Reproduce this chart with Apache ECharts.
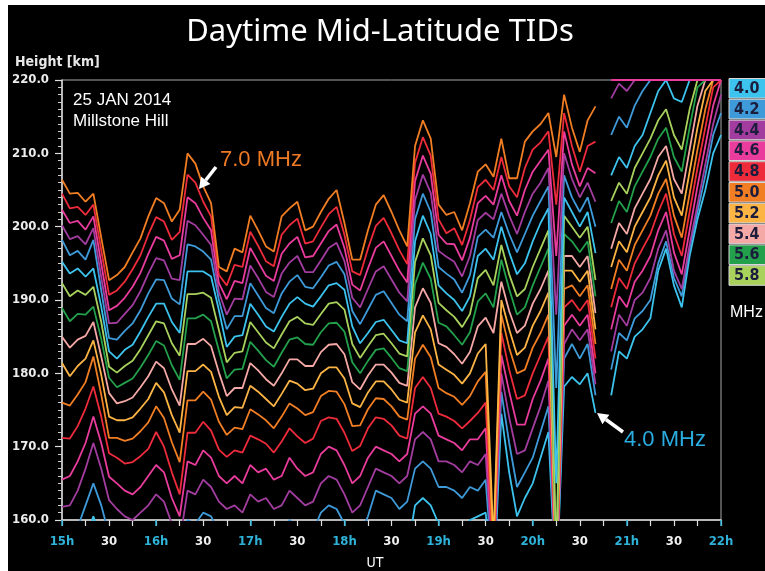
<!DOCTYPE html>
<html><head><meta charset="utf-8">
<script src="https://cdn.jsdelivr.net/npm/echarts/dist/echarts.min.js"></script>
<style>html,body{margin:0;padding:0;background:#fff}#c{width:765px;height:571px}</style>
</head><body><div id="c"></div>
<script>
// ---- data (heights in km, 5-minute samples from 15:00 UT; null = no echo) ----
const freqs = ['4.0','4.2','4.4','4.6','4.8','5.0','5.2','5.4','5.6','5.8','6.0','6.2','6.4','6.6','6.8','7.0'];
const legendFreqs = ['4.0','4.2','4.4','4.6','4.8','5.0','5.2','5.4','5.6','5.8'];
const hourLabels = ['15h','16h','17h','18h','19h','20h','21h','22h'];
const yTickLabels = ['160.0','170.0','180.0','190.0','200.0','210.0','220.0'];
const N15 = [null,null,null,null,null,null,null,null,null,null,null,null,null,null,null];
const TOP15 = [220,220,220,220,220,220,220,220,220,220,220,220,220,220,220];

const f70 = [206.4,204.5,204.6,203.4,204.5,198.5,192.7,193.4,194.5,196.5,
198.4,201.4,203.9,203.2,200.7,202.3,210,208.6,205.5,203.2,
194.5,193.9,197,196.5,201.5,199.5,197.3,196.6,201.4,202.5,
203.4,199.5,200,202,203.8,205,200.5,195.5,195.5,199.5,
203,204.3,202,199.5,197.3,211,214.5,212,203,201.6,
202,199.5,203.2,207.5,208.5,206.8,212,206.6,206.6,211.6,
213,214,215.5,209.5,218,213.5,210.2,214.5,216.4,null].concat(N15);
const f68 = [204.5,202.5,202.7,201.6,203.0,196.8,190.7,191.3,192.5,194.2,
196.1,198.9,201.3,200.7,198.2,199.3,207.1,206.0,203.4,201.4,
193.4,192.0,194.8,194.5,199.3,197.4,195.3,194.6,198.9,200.2,
201.1,197.7,198.0,199.9,201.7,202.7,198.9,193.9,193.4,197.0,
200.1,201.2,199.1,196.8,194.9,208.7,212.2,209.7,201.0,199.1,
199.8,197.5,200.9,205.4,206.4,205,209.5,205.5,204,208,
210.5,211.5,213,203,215.5,211,207.5,211,211.6,null].concat(N15);
const f66 = [202.3,200.5,200.8,199.6,201.4,195.0,188.6,189.2,190.3,191.8,
193.7,196.3,198.6,198.1,195.6,196.1,204.0,203.2,201.2,199.5,
192.3,190.1,192.6,192.3,197.1,195.2,193.3,192.6,196.3,197.7,
198.6,195.8,196.0,197.7,199.4,200.3,197.1,192.1,191.3,194.3,
197.1,198.0,196.0,194.0,192.4,206.2,209.7,207.2,198.9,197.7,
197.6,195.4,198.5,203.2,204.2,203,207,203.5,201.5,205,
207.5,209,210.5,196,213,208.5,205.5,208,207.3,null].concat(TOP15);
const f64 = [200.2,198.3,198.7,197.6,199.8,193.1,186.8,186.9,188.1,189.3,
191.2,193.6,195.7,195.4,192.9,192.7,200.8,200.2,198.9,197.5,
191.1,188.0,190.2,190.1,194.7,193.0,191.1,190.4,193.6,195.1,
196.0,193.8,193.8,195.4,197.1,197.8,195.3,190.3,189.0,191.5,
193.9,194.6,192.8,191.0,189.8,203.6,207.1,204.6,196.7,195.9,
195.2,193.2,196.0,200.9,201.9,201,204.5,201.5,199,202,
204.5,206,208,188,210,206.5,204,206,203.4,null,
217.5,219.5,218.5,220,220,220,220,220,220,220,220,220,220,220,220];
const f62 = [198.2,196.1,196.7,195.5,198.2,191.3,184.8,184.6,185.8,186.8,
188.6,190.9,192.8,192.7,190.2,189.4,197.6,197.3,196.6,195.5,
190.0,186.0,187.8,187.8,192.3,190.6,188.9,188.2,190.9,192.5,
193.4,191.8,191.6,193.1,194.7,195.2,193.5,188.5,186.7,188.7,
190.7,191.2,189.6,188.0,187.1,201.0,204.5,202.0,194.5,193.6,
192.8,191.0,193.4,198.6,199.6,198.5,202,199,196.5,199,
201.5,203.5,205.5,178,207,204,202,204,200,null,
212.5,215,213.5,216.5,218.5,220,220,220,220,220,220,220,220,220,220];
const f60 = [195.2,193.6,194.3,193.2,194.3,189.1,183.0,182.0,183.2,183.9,
185.7,187.7,189.5,189.5,187.0,185.5,193.9,193.9,193.9,193.2,
188.6,183.6,185.0,185.2,189.5,188.0,186.4,185.7,187.7,189.5,
190.4,189.5,189.1,190.5,192.0,192.3,191.4,186.4,184.1,185.5,
187.0,187.3,185.9,184.5,184.1,198.0,201.5,199.0,192.0,190.9,
190.0,188.5,190.5,196.0,197.0,195.5,200,196.5,193.5,195,
198,200.5,202.5,165,204,202,200,202,196.4,null,
207,209.5,208,211,212.5,215.5,218.5,220,217.5,217,220,220,220,220,220];
const f58 = [192.3,190.5,191.3,190.7,191.8,187.0,180.9,180.1,181.0,181.7,
183.3,185.2,187.1,186.8,184.1,182.4,190.8,190.8,191.0,190.3,
185.9,181.5,182.8,183.0,187.0,185.6,184.2,183.4,185.3,187.1,
187.7,186.8,186.6,188.1,189.5,189.7,188.7,184.0,182.1,183.7,
185.2,185.4,184.1,182.7,182.3,195.2,198.4,196.1,189.6,188.6,
187.7,186.3,188.1,193.0,194.1,192,197.5,193.5,190.5,191.5,
194.5,197,199.5,155,201.5,200,198.5,200,192.7,null,
203.5,206,204.5,208,210,212,214.5,216,212.5,210.5,216,220,220,220,220];
const f56 = [188.9,187.1,188.1,188.0,189.1,184.7,179.4,178.1,178.7,179.3,
180.8,182.5,184.4,183.8,181.1,179.1,187.5,187.5,188.0,187.1,
183.1,179.3,180.5,180.6,184.3,183.1,181.8,180.9,182.8,184.6,
184.9,184.0,183.9,185.6,186.8,186.9,185.7,181.5,180.0,181.7,
183.2,183.4,182.1,180.7,180.3,192.2,195.1,192.9,186.9,186.4,
185.2,183.9,185.6,189.8,190.9,189,195.5,191.5,188,189,
192,194.5,197,154,199,198,196.5,198,190.5,null,
200.5,203.5,202,205.5,207.5,209.5,212,213.5,209.5,207.5,213.5,219,220,220,220];
const f54 = [185.0,183.5,184.6,185.1,187.0,182.3,177.3,175.9,176.2,176.7,
178.1,179.6,181.6,180.7,177.8,175.6,184.0,184.0,184.7,183.7,
180.1,176.9,178.0,178.0,181.4,180.4,179.2,178.3,180.0,181.9,
181.9,181.0,181.0,182.9,183.9,184.0,182.6,178.8,177.8,179.7,
181.2,181.2,180.1,178.7,178.3,189.0,191.6,189.6,184.1,183.6,
182.6,181.3,182.9,186.4,187.6,185.5,192.5,188.5,185.5,186.5,
189.5,191.5,194,153,196,196,194.5,196,188.2,null,
197,200.5,199,202.5,204.5,206.5,209.5,211,206.5,204.5,210.5,216.5,220,220,220];
const f52 = [181.4,179.6,181.0,182.0,184.5,179.8,174.1,173.6,173.6,174.0,
175.2,176.5,178.7,177.4,174.3,171.9,180.3,180.3,181.2,180.2,
176.8,174.3,175.4,175.3,178.3,177.5,176.5,175.5,177.2,179.0,
178.6,177.7,177.9,180.0,180.8,180.8,179.3,175.9,175.4,177.4,
178.9,178.9,177.8,176.4,176.0,185.6,187.9,186.0,181.2,180.5,
179.8,178.6,180.0,182.7,184.0,157,190,186,182.5,183.5,
186.5,188.5,191,152,194,194,192.5,194,186,null,
194.5,198,196.5,200,202,204,207,209,204,201.5,207.5,213.5,218.5,220,220];
const f50 = [176.0,175.6,177.1,178.8,182.3,177.1,171.2,171.2,170.8,171.1,
172.1,173.3,175.5,173.9,170.6,167.9,176.3,176.3,177.5,176.4,
173.4,171.6,172.6,172.4,175.1,174.4,173.6,172.5,174.1,175.9,
175.2,174.3,174.7,176.9,177.6,177.5,175.8,172.8,172.9,175.1,
176.6,176.5,175.5,174.1,173.7,182.0,183.9,182.2,178.0,177.3,
176.8,175.7,176.9,178.9,180.2,155,188,183.5,180,180.5,
183.5,185.5,188,151,191.5,192,190.5,192,184,null,
191.5,195.5,194,197.5,199.5,201.5,204.5,206.5,201.5,198.5,204.5,210.5,216,220,220];
const f48 = [171.2,171.1,172.8,175.2,178.2,174.1,169.1,168.5,167.7,167.9,
168.7,169.7,172.0,170.0,166.5,163.5,171.9,171.9,173.4,172.2,
169.6,168.6,169.5,169.2,171.5,171.0,170.4,169.2,170.7,172.5,
171.4,170.5,171.1,173.5,174.0,173.8,171.9,169.4,170.1,172.5,
174.0,173.8,172.9,171.5,171.1,178.0,179.5,178.0,174.5,174.1,
173.5,172.5,173.5,174.6,176.0,154,185.5,180.5,176.5,177,
180,182.5,185,150,189,190,188.5,190,182,null,
189,193,191.5,195,197,199,202,204.5,199,196,202,208,213.5,219,220];
const f46 = [165.5,166,168,170.5,174.1,170.5,165.9,165,164,163.5,
164.5,166,167.5,166.5,163,160.5,168,167.5,169.5,168.5,
166,165,166,165,167.5,166.5,167,165.5,166,168.5,
167,166,166.5,169,170,169.5,167.5,165,166,168.5,
170,169.5,169,168,169,174.5,175.5,174.5,171.5,171,
170.5,169.5,171,171,172.5,153,182.5,177.5,173,173,
176.5,179,182,150,186.5,188,186.5,188,180,null,
186,190.5,189,192.5,194,196,199.5,202,196.5,193.5,199.5,205.5,211,216.5,220];
const f44 = [161.8,162,164,167,170.5,167,162.7,161.5,160.5,160,
161,162,163.5,162.5,159.5,157,164,163.5,165.5,164.5,
162.5,161.5,162,161,163.5,162.5,163,161.5,162,164,
163,162,162.5,165,166,165.5,163.5,161,162,164.5,
167,166.5,166,165,166,171,172,171,168,168,
167.5,166.5,168,167.5,169,152,180,174,169,169.5,
172.5,175.5,179,150,184,186,184.5,186,178.5,null,
183,188,186.5,190,191,193,197,199.5,194,191.5,197.5,203,208.5,214,218];
const f42 = [157,157.5,159,162,165,162,158,157.5,157,156.5,
157,158,159.5,158.5,156,153.5,160,159.5,161,160.5,
158.5,157.5,158,157,159.5,158.5,159,157.5,158,160,
159,158,158.5,161,162,161.5,159.5,157,158,160.5,
164,163.5,163,161.5,162.5,167,168,167,164.5,164.5,
164,163,164.5,164,165.5,151,177.5,170.5,164.5,166.5,
168.5,172,175.5,150,182,184,182,184,177,null,
180.5,185.5,184.5,187.5,188.5,190,195,198,193,190.5,197,202,207,212.5,215.5];
const f40 = [153,153.5,155,157.5,160.5,157.5,154,153.5,153,152.5,
153,154,155,154.5,152,150,156,155.5,157,156.5,
154.5,153.5,154,153,155.5,154.5,155,153.5,154,156,
155,154,154.5,157,158,157.5,155.5,153,154,157,
159,158,157.5,156,155.5,162,163,162,159.5,159.5,
159,158,160,160.5,161,150,174.5,166.5,160.5,163,
165,168.5,172,150,178.2,179.5,178.5,180,174.6,null,
177,183,182,185,186,187.5,194,197,192,189,196,201,205,210,212.5];

const seriesValues = [f40,f42,f44,f46,f48,f50,f52,f54,f56,f58,f60,f62,f64,f66,f68,f70];
// sampling grid: minutes after 15:00 UT
const minutesUT = f70.map((_, i) => i * 5);

// ---- styling ----
const palette = ['#3cc3ee','#3e9ad8','#a23d9f','#e93c9c','#ee2b3b','#f17e23','#fcb445','#f5a9a6','#22a04b','#a9d25d'];
const lineColor = i => palette[i % 10];
const CF = "'Liberation Sans Narrow','Arial Narrow','DejaVu Sans Condensed','Liberation Sans',sans-serif";
const SF = "'Liberation Sans',Arial,sans-serif";
const CYAN_TXT = '#2fb2d8';

const series = seriesValues.map((vals, i) => ({
  name: freqs[i] + ' MHz',
  type: 'line',
  xAxisIndex: 0, yAxisIndex: 0,
  showSymbol: false, symbol: 'none',
  clip: true, silent: true, animation: false,
  lineStyle: {color: lineColor(i), width: 1.8},
  data: minutesUT.map((t, j) => [t, vals[j] === null ? '-' : vals[j]])
}));

const graphics = [];
// white margin strips
graphics.push({type:'rect', shape:{x:0,y:0,width:8,height:571}, style:{fill:'#fff'}, z:100});
graphics.push({type:'rect', shape:{x:0,y:0,width:765,height:5}, style:{fill:'#fff'}, z:100});
// title and texts
graphics.push({type:'text', x:380, y:32, style:{text:'Daytime Mid-Latitude TIDs', fill:'#fff', font:"normal 31px 'Noto Sans',sans-serif", textAlign:'center', textVerticalAlign:'middle'}, z:50});
graphics.push({type:'text', x:15, y:62, style:{text:'Height [km]', fill:'#e8e8e8', font:"bold 14px " + CF, textAlign:'left', textVerticalAlign:'middle'}, z:50});
graphics.push({type:'text', x:375, y:563, style:{text:'UT', fill:'#fff', font:"normal 14px " + CF, textAlign:'center', textVerticalAlign:'middle'}, z:50});
graphics.push({type:'text', x:73, y:100, style:{text:'25 JAN 2014', fill:'#fff', font:"normal 17px " + SF, textAlign:'left', textVerticalAlign:'middle'}, z:50});
graphics.push({type:'text', x:73, y:121, style:{text:'Millstone Hill', fill:'#fff', font:"normal 17px " + SF, textAlign:'left', textVerticalAlign:'middle'}, z:50});
graphics.push({type:'text', x:220, y:160, style:{text:'7.0 MHz', fill:'#ee7a25', font:"normal 22px " + SF, textAlign:'left', textVerticalAlign:'middle'}, z:50});
graphics.push({type:'text', x:624, y:440, style:{text:'4.0 MHz', fill:'#2aaee2', font:"normal 22px " + SF, textAlign:'left', textVerticalAlign:'middle'}, z:50});
// arrows
graphics.push({type:'line', shape:{x1:216,y1:167,x2:205.7,y2:180.3}, style:{stroke:'#fff', lineWidth:3.5}, z:50});
graphics.push({type:'polygon', shape:{points:[[199,189],[210.4,184.0],[201.0,176.6]]}, style:{fill:'#fff'}, z:50});
graphics.push({type:'line', shape:{x1:623,y1:432,x2:605.9,y2:419.5}, style:{stroke:'#fff', lineWidth:3.5}, z:50});
graphics.push({type:'polygon', shape:{points:[[597,413],[609.4,414.7],[602.4,424.3]]}, style:{fill:'#fff'}, z:50});
// legend boxes
legendFreqs.forEach((f, i) => {
  const y0 = 78.5 + i * 20.8;
  graphics.push({type:'rect', shape:{x:729,y:y0,width:40,height:19.6}, style:{fill:palette[i], stroke:'#d8d8d8', lineWidth:1}, z:60});
  graphics.push({type:'text', x:734, y:y0 + 10.3, style:{text:f, fill:'#1c1c3c', font:"bold 16px " + CF, textAlign:'left', textVerticalAlign:'middle'}, z:61});
});
graphics.push({type:'text', x:730, y:313, style:{text:'MHz', fill:'#fff', font:"normal 16px " + SF, textAlign:'left', textVerticalAlign:'middle'}, z:61});

const chart = echarts.init(document.getElementById('c'), null, {renderer:'canvas'});
chart.setOption({
  backgroundColor: '#000',
  animation: false,
  grid: {left:62, right:44, top:80, bottom:51, show:true, backgroundColor:'#000', borderColor:'#a8a8a8', borderWidth:1},
  xAxis: [{
    type:'value', min:0, max:420, interval:15,
    axisLine:{show:true, onZero:false, lineStyle:{color:'#d8d8d8', width:1.5}},
    axisTick:{show:true, length:6, lineStyle:{color:'#e0e0e0', width:1.2}},
    splitLine:{show:false},
    axisLabel:{
      margin:15, interval:0,
      formatter: v => (v % 60 === 0) ? '{h|' + hourLabels[v/60] + '}' : ((v % 30 === 0) ? '{m|30}' : ''),
      rich:{
        h:{color:CYAN_TXT, fontWeight:'bold', fontSize:13, fontFamily:CF},
        m:{color:'#f0f0f0', fontWeight:'bold', fontSize:13, fontFamily:CF}
      }
    }
  },{
    type:'value', min:0, max:420, interval:60, position:'bottom',
    axisLine:{show:false}, splitLine:{show:false}, axisLabel:{show:false},
    axisTick:{show:true, length:6, lineStyle:{color:CYAN_TXT, width:1.5}}
  }],
  yAxis: {
    type:'value', min:160, max:220, interval:10,
    axisLine:{show:true, lineStyle:{color:'#d8d8d8', width:1.5}},
    axisTick:{show:true, length:7, lineStyle:{color:'#e0e0e0', width:1.2}},
    minorTick:{show:true, splitNumber:10, length:4, lineStyle:{color:'#d0d0d0', width:1}},
    splitLine:{show:false},
    axisLabel:{margin:13, color:'#ececec', fontWeight:'bold', fontSize:13, fontFamily:CF,
      formatter: v => yTickLabels[Math.round((v - 160) / 10)]}
  },
  series: series,
  graphic: graphics
});
</script></body></html>
